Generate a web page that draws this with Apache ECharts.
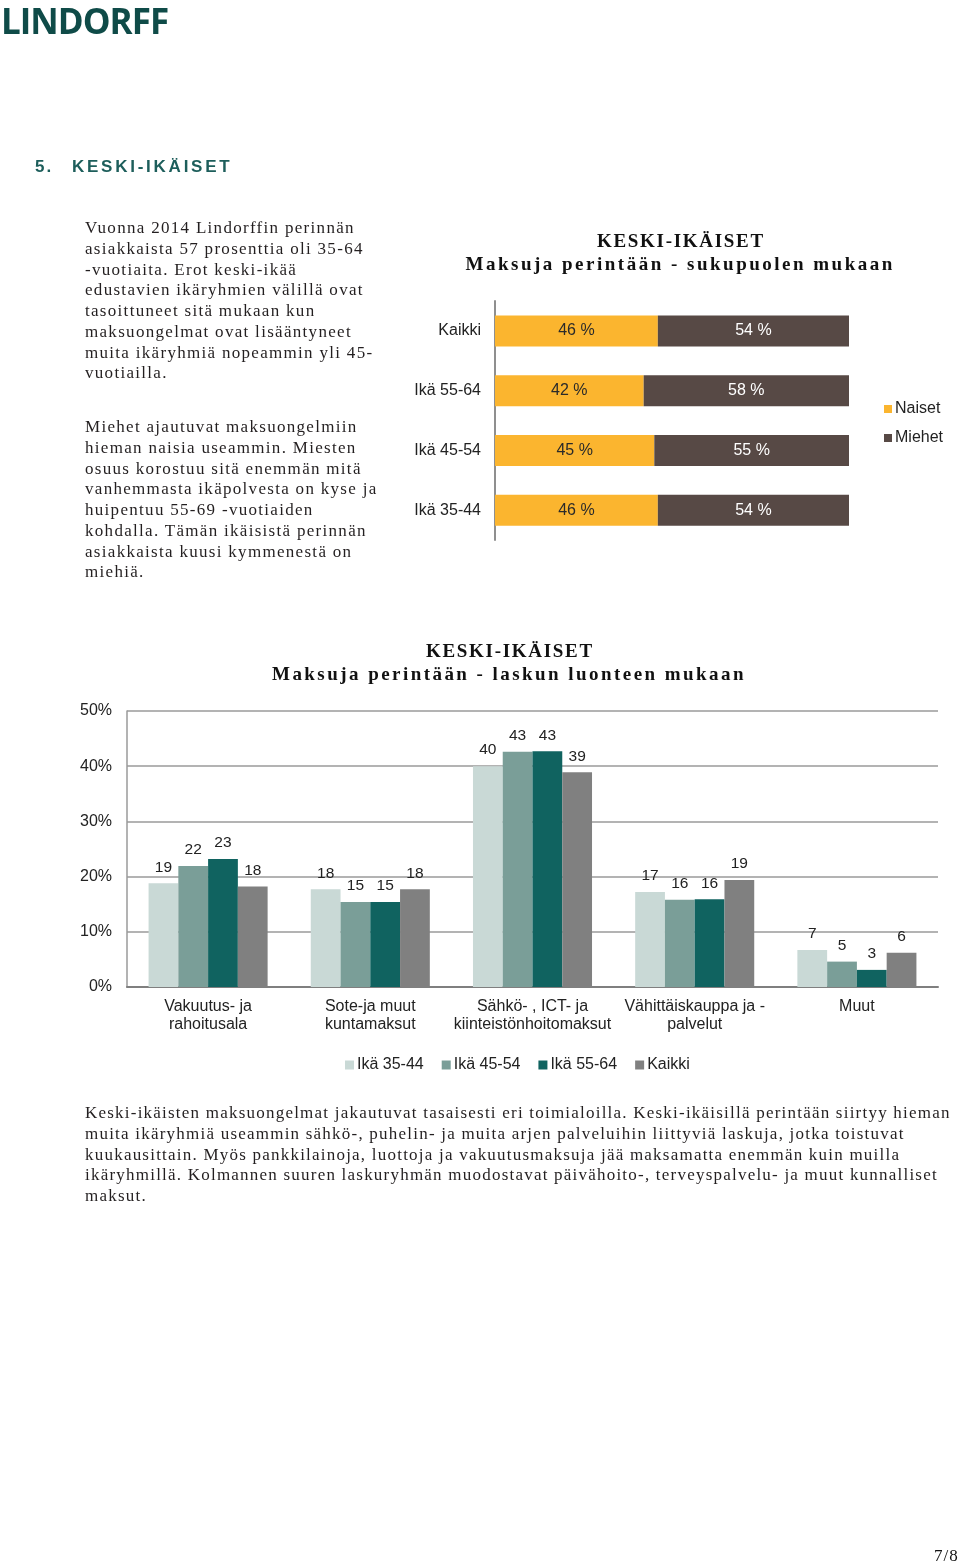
<!DOCTYPE html>
<html>
<head>
<meta charset="utf-8">
<script src="https://cdn.jsdelivr.net/npm/echarts@6/dist/echarts.min.js"></script>
<style>
  html, body { margin:0; padding:0; background:#fff; }
  #page { position:relative; width:960px; height:1565px; overflow:hidden; background:#fff; }
  #chart { position:absolute; left:0; top:0; width:960px; height:1565px; }
  .t { position:absolute; white-space:nowrap; color:#231f20; }
  .serif { font-family:'Liberation Serif','DejaVu Serif',serif; }
  .sans { font-family:'Liberation Sans',Arial,sans-serif; }
</style>
</head>
<body>
<div id="page">
  <div id="chart"></div>
</div>
<script>
// ---------- data ----------
const genderCategories = ['Kaikki', 'Ikä 55-64', 'Ikä 45-54', 'Ikä 35-44'];
const naiset = [46, 42, 45, 46];
const miehet = [54, 58, 55, 54];

const sectorCategories = ['Vakuutus- ja\nrahoitusala', 'Sote-ja muut\nkuntamaksut', 'Sähkö- , ICT- ja\nkiinteistönhoitomaksut', 'Vähittäiskauppa ja -\npalvelut', 'Muut'];
const age3544 = [18.8, 17.7, 40.0, 17.2, 6.7];
const age4554 = [21.9, 15.4, 42.6, 15.8, 4.6];
const age5564 = [23.2, 15.4, 42.7, 15.9, 3.1];
const kaikki  = [18.2, 17.7, 38.9, 19.4, 6.2];
const yTicksSector = [0, 10, 20, 30, 40, 50];

// ---------- prose ----------
const para1 = [
  'Vuonna 2014 Lindorffin perinnän',
  'asiakkaista 57 prosenttia oli 35-64',
  '-vuotiaita. Erot keski-ikää',
  'edustavien ikäryhmien välillä ovat',
  'tasoittuneet sitä mukaan kun',
  'maksuongelmat ovat lisääntyneet',
  'muita ikäryhmiä nopeammin yli 45-',
  'vuotiailla.'
];
const para2 = [
  'Miehet ajautuvat maksuongelmiin',
  'hieman naisia useammin. Miesten',
  'osuus korostuu sitä enemmän mitä',
  'vanhemmasta ikäpolvesta on kyse ja',
  'huipentuu 55-69 -vuotiaiden',
  'kohdalla. Tämän ikäisistä perinnän',
  'asiakkaista kuusi kymmenestä on',
  'miehiä.'
];
const para3 = [
  'Keski-ikäisten maksuongelmat jakautuvat tasaisesti eri toimialoilla. Keski-ikäisillä perintään siirtyy hieman',
  'muita ikäryhmiä useammin sähkö-, puhelin- ja muita arjen palveluihin liittyviä laskuja, jotka toistuvat',
  'kuukausittain. Myös pankkilainoja, luottoja ja vakuutusmaksuja jää maksamatta enemmän kuin muilla',
  'ikäryhmillä. Kolmannen suuren laskuryhmän muodostavat päivähoito-, terveyspalvelu- ja muut kunnalliset',
  'maksut.'
];

const page = document.getElementById('page');
function addText(txt, cls, style) {
  const d = document.createElement('div');
  d.className = 't ' + cls;
  d.textContent = txt;
  Object.assign(d.style, style);
  page.appendChild(d);
  return d;
}
// logo
addText('LINDORFF', 'sans', {left:'1px', top:'-3px', fontFamily:"'Open Sans','Liberation Sans',sans-serif", fontWeight:'700', fontSize:'35px', letterSpacing:'-1px', color:'#0f4b48', lineHeight:'48px'});
// section heading
addText('5.', 'sans', {left:'35px', top:'156px', fontWeight:'700', fontSize:'17px', letterSpacing:'2px', color:'#1d5e5b', lineHeight:'22px'});
addText('KESKI-IKÄISET', 'sans', {left:'72px', top:'156px', fontWeight:'700', fontSize:'17px', letterSpacing:'2.75px', color:'#1d5e5b', lineHeight:'22px'});

function addPara(lines, x, y0, step, style) {
  lines.forEach((l, i) => addText(l, 'serif', Object.assign({left:x+'px', top:(y0 + i*step - 11)+'px', lineHeight:'22px'}, style)));
}
addPara(para1, 85, 228, 20.75, {fontSize:'17px', letterSpacing:'1.3px'});
addPara(para2, 85, 427, 20.75, {fontSize:'17px', letterSpacing:'1.3px'});
addPara(para3, 85, 1113, 20.8, {fontSize:'17px', letterSpacing:'1.22px'});

// chart titles
function addCentered(txt, cx, cy, style) {
  const d = addText(txt, 'serif', Object.assign({top:(cy-12)+'px', lineHeight:'24px', fontWeight:'700', color:'#111'}, style));
  d.style.left = (cx - d.offsetWidth/2) + 'px';
}
addCentered('KESKI-IKÄISET', 681, 241, {fontSize:'19px', letterSpacing:'1.7px'});
addCentered('Maksuja perintään - sukupuolen mukaan', 680, 264, {fontSize:'19px', letterSpacing:'2.5px'});
addCentered('KESKI-IKÄISET', 510, 651, {fontSize:'19px', letterSpacing:'1.7px'});
addCentered('Maksuja perintään - laskun luonteen mukaan', 509, 674, {fontSize:'19px', letterSpacing:'2.45px'});

// page number
addText('7/8', 'serif', {left:'934px', top:'1545px', fontSize:'17px', letterSpacing:'1px', lineHeight:'22px', color:'#111'});

// ---------- chart ----------
const chart = echarts.init(document.getElementById('chart'), null, {renderer:'canvas'});
const SANS = "'Liberation Sans', Arial, sans-serif";
const round = p => Math.round(p.value);

const option = {
  animation: false,
  backgroundColor: 'transparent',
  textStyle: { fontFamily: SANS },
  grid: [
    { left: 495, top: 301, width: 354, height: 239, containLabel: false },
    { left: 127, top: 711, width: 811, height: 276, containLabel: false }
  ],
  legend: [
    {
      data: ['Naiset', 'Miehet'],
      orient: 'vertical', left: 879, top: 396,
      itemWidth: 8, itemHeight: 8, itemGap: 13, icon: 'rect',
      textStyle: { fontSize: 16, color: '#222', fontFamily: SANS, padding: [0,0,0,-2] }
    },
    {
      data: ['Ikä 35-44', 'Ikä 45-54', 'Ikä 55-64', 'Kaikki'],
      orient: 'horizontal', left: 340, top: 1052,
      itemWidth: 9, itemHeight: 9, itemGap: 18, icon: 'rect',
      textStyle: { fontSize: 16, color: '#222', fontFamily: SANS, padding: [0,0,0,-2] }
    }
  ],
  xAxis: [
    { gridIndex: 0, type: 'value', min: 0, max: 100, show: false },
    {
      gridIndex: 1, type: 'category', data: sectorCategories,
      axisTick: { show: false },
      axisLine: { lineStyle: { color: '#7f7f7f', width: 2 } },
      axisLabel: { interval: 0, fontSize: 16, lineHeight: 18, color: '#222', margin: 11, fontFamily: SANS }
    }
  ],
  yAxis: [
    {
      gridIndex: 0, type: 'category', data: genderCategories, inverse: true,
      axisTick: { show: false },
      axisLine: { lineStyle: { color: '#8f8f8f', width: 2 } },
      axisLabel: { fontSize: 16, color: '#222', margin: 14, fontFamily: SANS }
    },
    {
      gridIndex: 1, type: 'value', min: yTicksSector[0], max: yTicksSector[yTicksSector.length-1], interval: 10,
      axisLine: { show: true, lineStyle: { color: '#9a9a9a', width: 1.5 } },
      axisTick: { show: false },
      axisLabel: { formatter: '{value}%', fontSize: 16, color: '#222', margin: 15, fontFamily: SANS },
      splitLine: { lineStyle: { color: '#9a9a9a', width: 1.6 } }
    }
  ],
  series: [
    {
      name: 'Naiset', type: 'bar', stack: 'g', xAxisIndex: 0, yAxisIndex: 0,
      data: naiset, barWidth: 31, itemStyle: { color: '#fbb52f' },
      label: { show: true, position: 'inside', formatter: '{c} %', color: '#2a2a2a', fontSize: 16, fontFamily: SANS }
    },
    {
      name: 'Miehet', type: 'bar', stack: 'g', xAxisIndex: 0, yAxisIndex: 0,
      data: miehet, barWidth: 31, itemStyle: { color: '#574945' },
      label: { show: true, position: 'inside', formatter: '{c} %', color: '#ffffff', fontSize: 16, fontFamily: SANS }
    },
    {
      name: 'Ikä 35-44', type: 'bar', xAxisIndex: 1, yAxisIndex: 1, data: age3544,
      barGap: '0%', barCategoryGap: '26.6%', itemStyle: { color: '#c9d9d6' },
      label: { show: true, position: 'top', distance: 8, formatter: round, fontSize: 15.5, color: '#222', fontFamily: SANS }
    },
    {
      name: 'Ikä 45-54', type: 'bar', xAxisIndex: 1, yAxisIndex: 1, data: age4554,
      barGap: '0%', barCategoryGap: '26.6%', itemStyle: { color: '#7a9e98' },
      label: { show: true, position: 'top', distance: 8, formatter: round, fontSize: 15.5, color: '#222', fontFamily: SANS }
    },
    {
      name: 'Ikä 55-64', type: 'bar', xAxisIndex: 1, yAxisIndex: 1, data: age5564,
      barGap: '0%', barCategoryGap: '26.6%', itemStyle: { color: '#106360' },
      label: { show: true, position: 'top', distance: 8, formatter: round, fontSize: 15.5, color: '#222', fontFamily: SANS }
    },
    {
      name: 'Kaikki', type: 'bar', xAxisIndex: 1, yAxisIndex: 1, data: kaikki,
      barGap: '0%', barCategoryGap: '26.6%', itemStyle: { color: '#808080' },
      label: { show: true, position: 'top', distance: 8, formatter: round, fontSize: 15.5, color: '#222', fontFamily: SANS }
    }
  ]
};
chart.setOption(option);
</script>
</body>
</html>
